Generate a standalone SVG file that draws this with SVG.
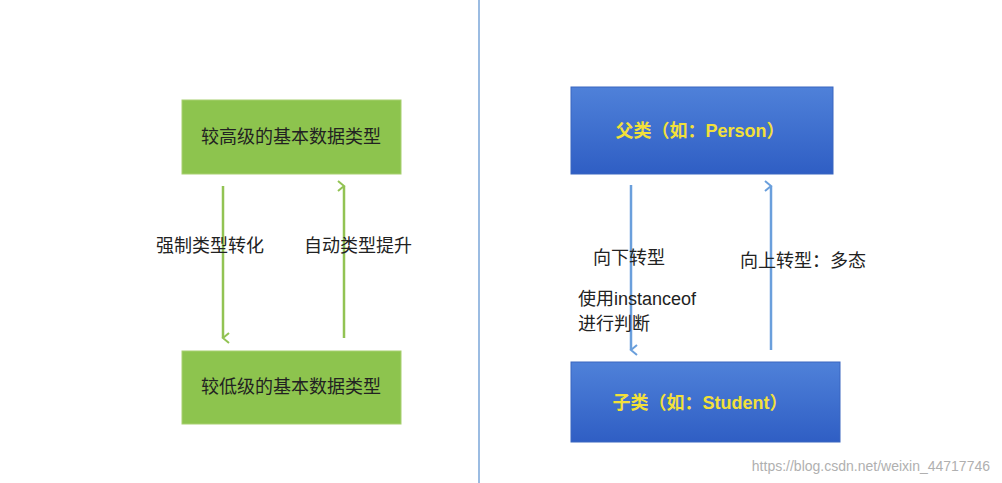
<svg xmlns="http://www.w3.org/2000/svg" width="1002" height="483" viewBox="0 0 1002 483">
<defs>
<linearGradient id="bg" x1="0" y1="0" x2="0" y2="1"><stop offset="0" stop-color="#4f81d9"/><stop offset="1" stop-color="#2f5ec4"/></linearGradient>
<marker id="ag" viewBox="0 0 12 12" refX="6" refY="10" markerWidth="12" markerHeight="12" markerUnits="userSpaceOnUse" orient="auto-start-reverse"><path d="M1,4 L6,10 L11,4" fill="none" stroke="#92c353" stroke-width="2"/></marker>
<marker id="ab" viewBox="0 0 12 12" refX="6" refY="10" markerWidth="12" markerHeight="12" markerUnits="userSpaceOnUse" orient="auto-start-reverse"><path d="M1,4 L6,10 L11,4" fill="none" stroke="#6a9fdc" stroke-width="2"/></marker>
</defs>
<style>
.g{fill:#8dc44e;stroke:#a8d070;stroke-width:1}
.b{fill:url(#bg);stroke:#3a66c0;stroke-width:1}
.t{font-family:"Liberation Sans","Noto Sans CJK SC",sans-serif;font-size:18px;fill:#222}
.y{font-family:"Liberation Sans","Noto Sans CJK SC",sans-serif;font-size:18px;font-weight:bold;fill:#f2e03a}
.lg{stroke:#92c353;stroke-width:2.5;fill:none}
.lb{stroke:#6a9fdc;stroke-width:2.5;fill:none}
</style>
<rect width="1002" height="483" fill="#fff"/>
<line x1="479" y1="0" x2="479" y2="483" stroke="#7aa6d8" stroke-width="1.5"/>
<g id="high"><rect class="g" x="182" y="100" width="219" height="74"/><text class="t" x="291" y="143" text-anchor="middle">较高级的基本数据类型</text></g>
<g id="low"><rect class="g" x="182" y="351" width="219" height="73"/><text class="t" x="291" y="393" text-anchor="middle">较低级的基本数据类型</text></g>
<g id="parent"><rect class="b" x="571" y="87" width="262" height="87"/><text class="y" x="700" y="137" text-anchor="middle">父类（如：Person）</text></g>
<g id="child"><rect class="b" x="571" y="362" width="269" height="80"/><text class="y" x="700" y="409" text-anchor="middle">子类（如：Student）</text></g>
<g id="connectors">
<line class="lg" x1="223" y1="186" x2="223" y2="338" marker-end="url(#ag)"/>
<line class="lg" x1="344" y1="338" x2="344" y2="186" marker-end="url(#ag)"/>
<line class="lb" x1="631" y1="185" x2="631" y2="350" marker-end="url(#ab)"/>
<line class="lb" x1="771" y1="350" x2="771" y2="186" marker-end="url(#ab)"/>
<text class="t" x="156" y="252">强制类型转化</text>
<text class="t" x="304" y="252">自动类型提升</text>
<text class="t" x="593" y="264">向下转型</text>
<text class="t" x="578" y="305">使用instanceof</text>
<text class="t" x="578" y="330">进行判断</text>
<text class="t" x="740" y="267">向上转型：多态</text>
</g>
<text x="990" y="471" text-anchor="end" font-family="Liberation Sans,sans-serif" font-size="14" fill="#b0b0b0">https://blog.csdn.net/weixin_44717746</text>
</svg>
